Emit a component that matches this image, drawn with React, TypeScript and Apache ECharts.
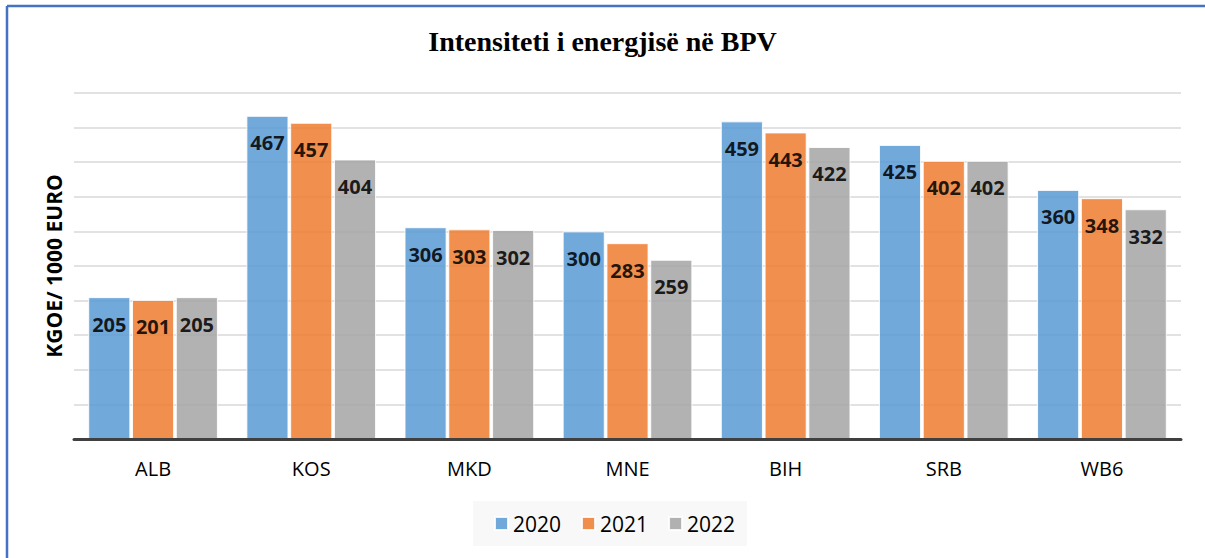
import React, { useEffect, useRef } from "react";
import * as echarts from "echarts";

const categories = ["ALB", "KOS", "MKD", "MNE", "BIH", "SRB", "WB6"];
const seriesNames = ["2020", "2021", "2022"];
const values2020 = [205, 467, 306, 300, 459, 425, 360];
const values2021 = [201, 457, 303, 283, 443, 402, 348];
const values2022 = [205, 404, 302, 259, 422, 402, 332];
const seriesColors = ["#5b9bd5", "#ed7d31", "#a5a5a5"];
const titleText = "Intensiteti i energjisë në BPV";
const yAxisName = "KGOE/ 1000 EURO";

export default function App() {
  const ref = useRef<HTMLDivElement>(null);
  useEffect(() => {
    if (!ref.current) return;
    const chart = echarts.init(ref.current, null, { renderer: "svg" });
    const data = [values2020, values2021, values2022];
    chart.setOption({
      animation: false,
      backgroundColor: "#ffffff",
      title: {
        text: titleText,
        left: "center",
        top: 22,
        textStyle: {
          fontFamily: "Liberation Serif",
          fontWeight: "bold",
          fontSize: 28,
          color: "#000",
        },
      },
      graphic: [
        {
          type: "line",
          shape: { x1: 7, y1: 6, x2: 1205, y2: 6 },
          style: { stroke: "#4472c4", lineWidth: 2.5 },
          silent: true,
        },
        {
          type: "line",
          shape: { x1: 7, y1: 6, x2: 7, y2: 558 },
          style: { stroke: "#4472c4", lineWidth: 2.5 },
          silent: true,
        },
      ],
      legend: {
        data: seriesNames,
        left: 473,
        top: 501,
        icon: "rect",
        itemWidth: 13,
        itemHeight: 13,
        itemGap: 20,
        padding: [12, 12, 12, 21],
        backgroundColor: "#f8f8f8",
        textStyle: {
          fontFamily: "Open Sans",
          fontSize: 21,
          color: "#000",
        },
      },
      grid: { left: 74, right: 24, top: 93, bottom: 119 },
      xAxis: {
        type: "category",
        data: categories,
        axisLine: { lineStyle: { color: "#404040", width: 3 } },
        axisTick: { show: false },
        axisLabel: {
          fontFamily: "Open Sans",
          fontSize: 20,
          color: "#000",
          margin: 19,
        },
        z: 5,
      },
      yAxis: {
        type: "value",
        min: 0,
        max: 500,
        interval: 50,
        axisLabel: { show: false },
        axisLine: { show: false },
        axisTick: { show: false },
        splitLine: { lineStyle: { color: "#d9d9d9", width: 1.5 } },
        name: yAxisName,
        nameLocation: "middle",
        nameGap: 10,
        nameRotate: 90,
        nameTextStyle: {
          fontFamily: "Open Sans",
          fontWeight: "bold",
          fontSize: 21,
          color: "#000",
        },
      },
      series: seriesNames.map((name, i) => ({
        name,
        type: "bar",
        data: data[i],
        barGap: "4%",
        barCategoryGap: "18%",
        itemStyle: {
          color: seriesColors[i],
          opacity: 0.86,
          borderColor: "#ffffff",
          borderWidth: 1,
        },
        label: {
          show: true,
          position: "insideTop",
          distance: 17,
          fontFamily: "Open Sans",
          fontWeight: "bold",
          fontSize: 20,
          color: "#000",
        },
      })),
    });
    return () => chart.dispose();
  }, []);
  return (
    <div
      ref={ref}
      style={{ position: "fixed", left: 0, top: 0, width: 1205, height: 558 }}
    />
  );
}
